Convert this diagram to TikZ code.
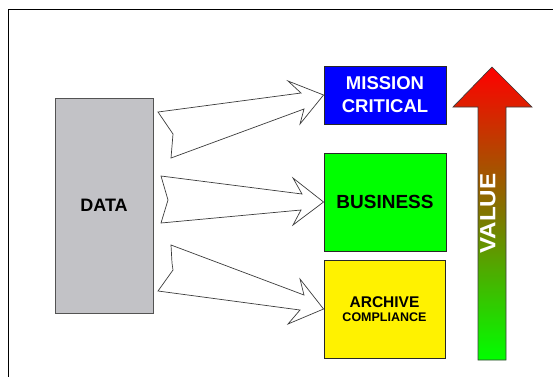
\documentclass[tikz,border=0pt]{standalone}
\usepackage{fontspec}
\setmainfont{Liberation Sans}
\definecolor{datagray}{RGB}{194,194,198}
\definecolor{boxline}{RGB}{40,40,40}
\definecolor{arrowline}{RGB}{60,60,60}
\definecolor{valred}{RGB}{255,0,0}
\definecolor{valgreen}{RGB}{0,255,0}
\begin{document}
\begin{tikzpicture}[x=1pt,y=-1pt,
  box/.style={draw=boxline,line width=0.9pt,inner sep=0pt,font=\bfseries,align=center},
  flowarrow/.style={draw=arrowline,line width=0.7pt,fill=white,line join=miter},
  lbl/.style={font=\bfseries,inner sep=0pt,align=center}]
\useasboundingbox (0,0) rectangle (553,376);
% page frame
\draw[line width=1pt] (8,377) -- (8,9) -- (554,9);

% source block
\node[box,draw=boxline!80,fill=datagray,minimum width=98pt,minimum height=215pt,
      font=\bfseries\fontsize{18}{20}\selectfont] (data) at (104,205.5) {DATA};

% target blocks
\node[box,fill=blue,text=white,minimum width=122pt,minimum height=58pt,
      font=\bfseries\fontsize{18.5}{23}\selectfont] (mc) at (385,95) {MISSION\\CRITICAL};
\node[box,fill=valgreen,minimum width=122pt,minimum height=98pt,
      font=\bfseries\fontsize{19}{22}\selectfont] (bus) at (385,202) {BUSINESS};
\node[box,fill=yellow,minimum width=121pt,minimum height=98pt] (arc) at (384.5,309)
  {{\fontsize{15.5}{18}\selectfont ARCHIVE}\\[1.5pt]{\fontsize{12.5}{15}\selectfont COMPLIANCE}};

% block arrows from the data block to each target
\draw[flowarrow] (158,112) -- (301,93) -- (288,81) -- (mc.west) -- (300,124) -- (304,109)
  -- (171,158) -- (173,134) -- cycle;
\draw[flowarrow] (161,176) -- (302,194) -- (293,178) -- (bus.west) -- (293,225) -- (301,210)
  -- (161,223) -- (168,200) -- cycle;
\draw[flowarrow] (171,245) -- (304,295) -- (300,279) -- (arc.west) -- (288,324) -- (300,310)
  -- (158,291) -- (173,270) -- (172,263) -- cycle;

% value scale arrow
\shade[top color=valred,bottom color=valgreen,middle color={rgb,255:red,128;green,118;blue,0},
       draw=arrowline,line width=0.7pt]
  (492,67) -- (532,107) -- (506,107) -- (506,360) -- (478,360) -- (478,107) -- (453,107) -- cycle;
\node[lbl,text=white,rotate=90,font=\bfseries\fontsize{22}{24}\selectfont] (value) at (488,213.5)
  {\scalebox{1.1}[1]{VALUE}};
\end{tikzpicture}
\end{document}
